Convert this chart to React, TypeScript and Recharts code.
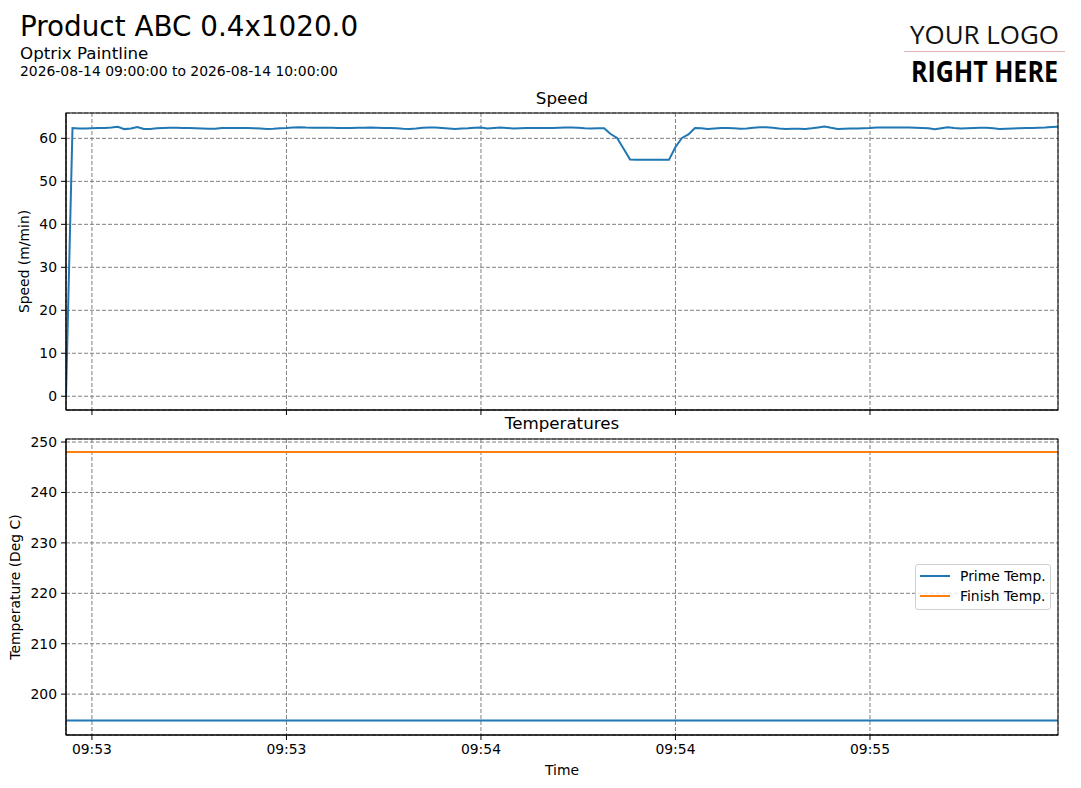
import { CartesianGrid, Legend, Line, LineChart, XAxis, YAxis } from 'recharts';

// seconds relative to 09:53:00, one speed sample per second
const SPEED_START = -4;
const speedValues = [
  0, 62.4, 62.3, 62.3, 62.35, 62.4, 62.4, 62.5, 62.7, 62.15,
  62.3, 62.65, 62.2, 62.2, 62.35, 62.4, 62.45, 62.45, 62.4, 62.4,
  62.35, 62.3, 62.25, 62.25, 62.4, 62.4, 62.4, 62.4, 62.4, 62.35,
  62.3, 62.2, 62.25, 62.35, 62.4, 62.5, 62.6, 62.5, 62.45, 62.45,
  62.45, 62.45, 62.4, 62.4, 62.4, 62.45, 62.45, 62.5, 62.45, 62.4,
  62.4, 62.35, 62.25, 62.2, 62.3, 62.45, 62.55, 62.5, 62.4, 62.3,
  62.2, 62.3, 62.35, 62.45, 62.5, 62.3, 62.4, 62.5, 62.4, 62.3,
  62.35, 62.4, 62.4, 62.4, 62.4, 62.4, 62.45, 62.5, 62.55, 62.45,
  62.35, 62.3, 62.35, 62.35, 61.0, 60.1, 57.6, 55.1, 55.0, 55.0,
  55.0, 55.0, 55.0, 55.0, 58.0, 60.1, 60.9, 62.4, 62.35, 62.2,
  62.3, 62.4, 62.4, 62.35, 62.25, 62.3, 62.45, 62.6, 62.6, 62.45,
  62.3, 62.2, 62.25, 62.25, 62.2, 62.35, 62.55, 62.75, 62.45, 62.2,
  62.25, 62.3, 62.3, 62.35, 62.4, 62.5, 62.5, 62.5, 62.5, 62.5,
  62.5, 62.45, 62.4, 62.35, 62.1, 62.35, 62.6, 62.4, 62.3, 62.35,
  62.4, 62.45, 62.45, 62.35, 62.2, 62.25, 62.3, 62.35, 62.4, 62.4,
  62.45, 62.5, 62.65, 62.7,
];

const tempSeconds = [-4, 26, 56, 86, 116, 149];
const primeTemp = [194.8, 194.8, 194.8, 194.8, 194.8, 194.8];
const finishTemp = [248.0, 248.0, 248.0, 248.0, 248.0, 248.0];
const legendOrder = ['Prime Temp.', 'Finish Temp.'];

const timeTicks = [0, 30, 60, 90, 120];
const timeTickLabels = ['09:53', '09:53', '09:54', '09:54', '09:55'];
const speedTicks = [0, 10, 20, 30, 40, 50, 60];
const tempTicks = [200, 210, 220, 230, 240, 250];

const speedRows = speedValues.map((v, i) => ({ t: SPEED_START + i, speed: v }));
const tempRows = tempSeconds.map((t, i) => ({
  t,
  prime: primeTemp[i],
  finish: finishTemp[i],
}));

const X_DOMAIN: [number, number] = [-4, 149];
const BLUE = '#1f77b4';
const ORANGE = '#ff7f0e';
const GRID = '#808080';
const TICK_FONT = 13.9;

const timeLabel = (v: number) => {
  const idx = timeTicks.indexOf(v);
  return idx >= 0 ? timeTickLabels[idx] : '';
};

function TempLegend({ payload }: any) {
  // keep the plotting order, not recharts' alphabetical one
  const items = [...(payload ?? [])].sort(
    (a: any, b: any) => legendOrder.indexOf(a.value) - legendOrder.indexOf(b.value)
  );
  return (
    <div
      style={{
        width: 136,
        height: 46,
        boxSizing: 'border-box',
        border: '1px solid #d0d0d0',
        borderRadius: 3,
        background: 'rgba(255,255,255,0.8)',
        paddingTop: 1,
      }}
    >
      {items.map((entry: any) => (
        <div
          key={entry.value}
          style={{ display: 'flex', alignItems: 'center', height: 20 }}
        >
          <span
            style={{
              display: 'inline-block',
              marginLeft: 4,
              width: 30,
              height: 2,
              background: entry.color,
            }}
          />
          <span style={{ marginLeft: 10, fontSize: TICK_FONT, color: '#000' }}>
            {entry.value}
          </span>
        </div>
      ))}
    </div>
  );
}

export default function App() {
  return (
    <div
      style={{
        position: 'absolute',
        left: 0,
        top: 0,
        width: 1081,
        height: 788,
        background: '#fff',
        fontFamily: '"DejaVu Sans", sans-serif',
      }}
    >
      {/* Speed panel */}
      <div style={{ position: 'absolute', left: 0, top: 0 }}>
        <LineChart
          width={1081}
          height={425}
          data={speedRows}
          margin={{ top: 113, right: 23, bottom: 0, left: 0 }}
        >
          <CartesianGrid stroke={GRID} strokeDasharray="4 2" />
          <XAxis
            dataKey="t"
            type="number"
            domain={X_DOMAIN}
            ticks={timeTicks}
            height={15}
            tickSize={5}
            tickFormatter={() => ''}
            axisLine={{ stroke: '#000' }}
            tickLine={{ stroke: '#000' }}
            allowDataOverflow
          />
          <YAxis
            type="number"
            domain={[-3.2, 65.9]}
            ticks={speedTicks}
            width={66}
            tickSize={5}
            tickMargin={4}
            tick={{ fill: '#000', fontSize: TICK_FONT }}
            axisLine={{ stroke: '#000' }}
            tickLine={{ stroke: '#000' }}
            allowDataOverflow
          />
          <Line
            dataKey="speed"
            stroke={BLUE}
            strokeWidth={2}
            dot={false}
            isAnimationActive={false}
          />
        </LineChart>
      </div>

      {/* Temperatures panel */}
      <div style={{ position: 'absolute', left: 0, top: 425 }}>
        <LineChart
          width={1081}
          height={363}
          data={tempRows}
          margin={{ top: 14, right: 23, bottom: 0, left: 0 }}
        >
          <CartesianGrid stroke={GRID} strokeDasharray="4 2" />
          <XAxis
            dataKey="t"
            type="number"
            domain={X_DOMAIN}
            ticks={timeTicks}
            height={53}
            tickSize={5}
            tickMargin={4}
            tickFormatter={timeLabel}
            tick={{ fill: '#000', fontSize: TICK_FONT }}
            axisLine={{ stroke: '#000' }}
            tickLine={{ stroke: '#000' }}
            allowDataOverflow
          />
          <YAxis
            type="number"
            domain={[191.9, 250.6]}
            ticks={tempTicks}
            width={66}
            tickSize={5}
            tickMargin={4}
            tick={{ fill: '#000', fontSize: TICK_FONT }}
            axisLine={{ stroke: '#000' }}
            tickLine={{ stroke: '#000' }}
            allowDataOverflow
          />
          <Legend
            layout="horizontal"
            align="center"
            verticalAlign="middle"
            content={TempLegend}
            wrapperStyle={{ position: 'absolute', left: 915, top: 139, width: 136 }}
          />
          <Line
            dataKey="prime"
            name="Prime Temp."
            stroke={BLUE}
            strokeWidth={2}
            dot={false}
            isAnimationActive={false}
          />
          <Line
            dataKey="finish"
            name="Finish Temp."
            stroke={ORANGE}
            strokeWidth={2}
            dot={false}
            isAnimationActive={false}
          />
        </LineChart>
      </div>

      {/* titles, frames, axis labels, logo */}
      <svg
        width={1081}
        height={788}
        style={{ position: 'absolute', left: 0, top: 0, pointerEvents: 'none' }}
      >
        <rect x={66} y={113} width={992} height={297} fill="none" stroke="#000" />
        <rect x={66} y={439} width={992} height={296} fill="none" stroke="#000" />

        <text x={20} y={36} fontSize={27.8} fill="#000">
          Product ABC 0.4x1020.0
        </text>
        <text x={20} y={59} fontSize={16.7} fill="#000">
          Optrix Paintline
        </text>
        <text x={20} y={76} fontSize={13.9} fill="#000">
          2026-08-14 09:00:00 to 2026-08-14 10:00:00
        </text>

        <text x={562} y={104} fontSize={16.7} textAnchor="middle" fill="#000">
          Speed
        </text>
        <text x={562} y={429} fontSize={16.7} textAnchor="middle" fill="#000">
          Temperatures
        </text>

        <text
          transform="translate(29,261.5) rotate(-90)"
          fontSize={TICK_FONT}
          textAnchor="middle"
          fill="#000"
        >
          Speed (m/min)
        </text>
        <text
          transform="translate(20,587) rotate(-90)"
          fontSize={TICK_FONT}
          textAnchor="middle"
          fill="#000"
        >
          Temperature (Deg C)
        </text>
        <text x={562} y={775} fontSize={TICK_FONT} textAnchor="middle" fill="#000">
          Time
        </text>

        <text
          x={910}
          y={44}
          fontSize={26}
          fontFamily='"Open Sans", sans-serif'
          textLength={149}
          lengthAdjust="spacingAndGlyphs"
          fill="#111"
        >
          YOUR LOGO
        </text>
        <line x1={904} y1={51.5} x2={1065} y2={51.5} stroke="#e2b4b4" strokeWidth={1} />
        <text
          x={911}
          y={82}
          fontSize={28}
          fontWeight={700}
          fontFamily='"Open Sans", sans-serif'
          textLength={147}
          lengthAdjust="spacingAndGlyphs"
          fill="#000"
        >
          RIGHT HERE
        </text>
      </svg>
    </div>
  );
}
